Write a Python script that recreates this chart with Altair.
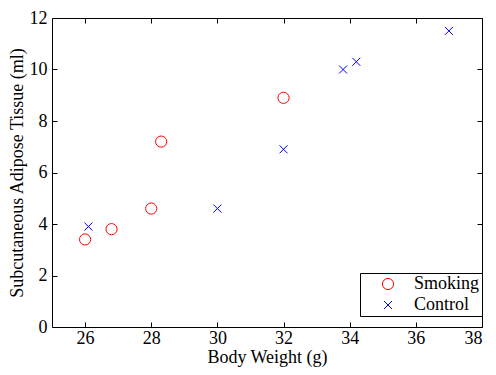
import altair as alt
import pandas as pd

# Data
smoke_x = [26.0, 26.8, 28.0, 28.3, 32.0]
smoke_y = [3.4, 3.8, 4.6, 7.2, 8.9]
ctrl_x = [26.1, 30.0, 32.0, 33.8, 34.2, 37.0]
ctrl_y = [3.9, 4.6, 6.9, 10.0, 10.3, 11.5]
groups = ["Smoking", "Control"]
x_ticks = [26, 28, 30, 32, 34, 36, 38]
y_ticks = [0, 2, 4, 6, 8, 10, 12]

df = pd.DataFrame({
    "x": smoke_x + ctrl_x,
    "y": smoke_y + ctrl_y,
    "group": [groups[0]] * len(smoke_x) + [groups[1]] * len(ctrl_x),
})

FONT = "Liberation Serif"
xscale = alt.Scale(domain=[25, 38], nice=False, zero=False)
yscale = alt.Scale(domain=[0, 12], nice=False, zero=True)

axis_common = dict(
    offset=-5, tickSize=5, tickColor="black", tickWidth=1, domain=False,
    grid=False, labelFont=FONT, labelFontSize=18, labelColor="black",
    titleFont=FONT, titleFontSize=18, titleColor="black", titleFontWeight="normal",
)

leg = dict(title=None, orient="none", legendX=308, legendY=255)

points = alt.Chart(df).mark_point(filled=False, strokeWidth=1, opacity=1).encode(
    x=alt.X("x:Q", scale=xscale, axis=alt.Axis(
        orient="bottom", values=x_ticks, title="Body Weight (g)",
        labelPadding=2, titlePadding=1, **axis_common)),
    y=alt.Y("y:Q", scale=yscale, axis=alt.Axis(
        orient="left", values=y_ticks, title="Subcutaneous Adipose Tissue (ml)",
        labelPadding=5, titlePadding=3, **axis_common)),
    color=alt.Color("group:N", scale=alt.Scale(domain=groups, range=["#FF0000", "#0000FF"]),
                    legend=alt.Legend(strokeColor="black", fillColor="white", padding=2,
                                      symbolOffset=17, labelOffset=17, rowPadding=3,
                                      labelFont=FONT, labelFontSize=18, labelColor="black",
                                      symbolStrokeWidth=1, cornerRadius=0, **leg)),
    shape=alt.Shape("group:N", scale=alt.Scale(domain=groups, range=["circle", "M-1,-1L1,1M-1,1L1,-1"]),
                    legend=alt.Legend(**leg)),
    size=alt.Size("group:N", scale=alt.Scale(domain=groups, range=[125, 64]),
                  legend=alt.Legend(**leg)),
)

mirror = alt.Chart(df).mark_point(opacity=0).encode(
    x=alt.X("x:Q", scale=xscale, axis=alt.Axis(orient="top", values=x_ticks, title=None,
                                               labels=False, **axis_common)),
    y=alt.Y("y:Q", scale=yscale, axis=alt.Axis(orient="right", values=y_ticks, title=None,
                                               labels=False, **axis_common)),
)

chart = alt.layer(points, mirror).resolve_axis(x="independent", y="independent").properties(
    width=430, height=309,
    autosize=alt.AutoSizeParams(type="none"),
    padding={"left": 44, "top": 10, "right": 6, "bottom": 44},
    background="white",
).configure(font=FONT).configure_view(stroke="black", strokeWidth=1).configure_axis(
    labelFont=FONT, titleFont=FONT
).configure_legend(labelFont=FONT)

chart.save("out.html", embed_options={"renderer": "svg", "actions": False})
